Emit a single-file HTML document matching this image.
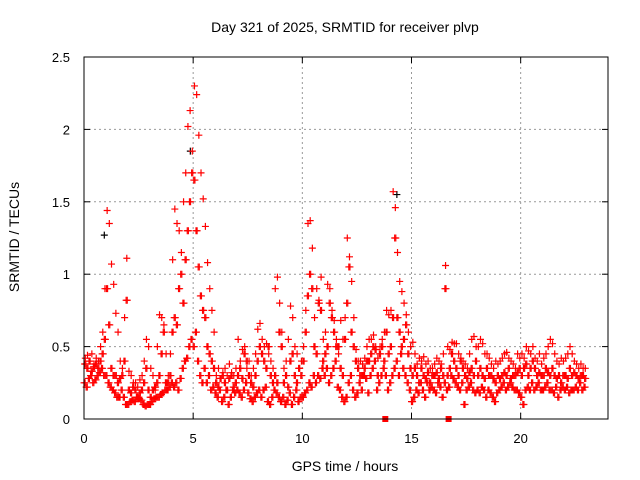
<!DOCTYPE html>
<html><head><meta charset="utf-8"><style>
body{margin:0;background:#fff}
svg{display:block;font-family:"Liberation Sans",sans-serif}
</style></head><body>
<svg id="chart" width="640" height="480" xmlns="http://www.w3.org/2000/svg">
<text x="345" y="32" font-size="14" text-anchor="middle">Day 321 of 2025, SRMTID for receiver plvp</text>
<text x="345" y="471" font-size="14" text-anchor="middle">GPS time / hours</text>
<text transform="translate(19,237) rotate(-90)" font-size="14" text-anchor="middle">SRMTID / TECUs</text>
<g id="grid"></g><g id="marks"></g><g id="axes"></g>
</svg>
<script>
const xTicks=[0,5,10,15,20];
const yTicks=[0,0.5,1,1.5,2,2.5];
const yTickLabels=["0","0.5","1","1.5","2","2.5"];
const lowVals=[.25,.22,.28,.3,.25,.27,.3,.32,.35,.3, .3,.25,.22,.2,.18,.15,.15,.2,.15,.1, .1,.12,.13,.12,.15,.14,.13,.1,.09,.1, .1,.12,.14,.15,.15,.17,.18,.2,.2,.22, .25,.22,.25,.2,.28,.35,.4,.42,.5,.55, .5,.6,.4,.3,.25,.35,.25,.3,.2,.22, .18,.15,.2,.12,.15,.2,.1,.15,.2,.18, .2,.18,.15,.2,.25,.18,.14,.12,.15,.18, .2,.15,.2,.22,.12,.1,.15,.2,.18,.15, .12,.15,.1,.13,.18,.1,.15,.2,.12,.15, .15,.18,.2,.25,.22,.3,.25,.3,.28,.35, .3,.35,.25,.3,.35,.4,.22,.2,.15,.12, .15,.25,.3,.2,.15,.18,.25,.2,.3,.28, .18,.3,.35,.4,.2,.25,.3,.35,.3,.2, .25,.3,.35,.4,.3,.45,.35,.3,.25,.2, .12,.15,.2,.18,.25,.2,.15,.25,.2,.22, .2,.18,.25,.22,.15,.25,.2,.22,.3,.28, .25,.22,.2,.25,.1,.2,.22,.25,.2,.18, .2,.18,.22,.2,.15,.2,.18,.15,.12,.18, .2,.22,.25,.2,.22,.25,.22,.2,.2,.18, .15,.1,.2,.22,.2,.25,.2,.22,.25,.2, .2,.22,.25,.2,.2,.18,.22,.15,.2,.22, .2,.22,.18,.2,.2,.22,.2,.25,.2,.22];
const midVals=[.38,.35,.4,.33,.36,.38,.35,.4,.45,.55, .9,.65,.35,.3,.3,.25,.28,.3,.4,.82, .2,.18,.22,.2,.15,.18,.2,.25,.35,.2, .15,.2,.22,.25,.3,.45,.6,.25,.25,.3, .6,.7,.65,.9,1.0,.8,1.1,1.3,1.5,1.7, 1.65,1.3,1.05,.85,.75,.7,.5,.45,.4,.35, .25,.22,.28,.3,.25,.2,.28,.3,.22,.25, .3,.35,.28,.45,.4,.3,.25,.22,.3,.4, .5,.45,.4,.35,.5,.3,.25,.3,.25,.6, .5,.25,.3,.22,.4,.45,.3,.25,.35,.3, .4,.6,.85,1.0,.9,.5,.45,.8,.75,.4, .45,.5,.8,.7,.6,.5,.5,.35,.3,.55, .8,1.05,.6,.5,.4,.35,.3,.3,.35,.4, .4,.45,.5,.48,.3,.45,.5,.4,.6,.45, .5,.7,1.25,.7,.6,.5,.55,.65,.45,.35, .3,.35,.3,.25,.35,.3,.28,.32,.25,.3, .3,.32,.28,.35,.3,.9,.3,.35,.45,.4, .35,.3,.4,.35,.3,.28,.32,.35,.3,.4, .3,.35,.3,.28,.35,.3,.3,.28,.25,.3, .28,.3,.32,.3,.35,.28,.3,.3,.32,.35, .3,.35,.38,.3,.35,.4,.35,.3,.32,.3, .3,.35,.32,.3,.35,.3,.28,.3,.25,.3, .3,.28,.35,.3,.32,.3,.28,.3,.3,.28];
const highVals=[.42,.44,.4,.45,.38,.42,.4,.5,.6,.9, 1.44,1.35,1.07,.93,.73,.6,.4,.35,.7,1.11, .33,.3,.25,.25,.22,.27,.3,.4,.55,.5, .35,.3,.2,.5,.72,.7,.65,.45,.3,.45, 1.1,1.45,1.35,1.3,1.15,1.5,1.7,2.02,2.13,1.85, 2.3,2.24,1.96,1.7,1.52,1.33,1.08,.9,.75,.6, .3,.35,.28,.32,.35,.3,.38,.32,.3,.35, .55,.4,.48,.5,.35,.4,.3,.35,.45,.62, .66,.55,.5,.52,.45,.4,.35,.9,.98,.8, .6,.35,.4,.55,.78,.7,.5,.45,.35,.4, .5,.75,1.35,1.37,1.18,.7,.9,.82,.98,.55, .6,.93,.9,.75,.68,.55,.45,.68,.55,.7, 1.25,1.12,.95,.7,.48,.4,.4,.38,.42,.5, .55,.55,.58,.5,.42,.5,.55,.6,.75,.72, .75,1.57,1.46,1.15,.95,.88,.8,.72,.6,.5, .53,.45,.38,.42,.4,.43,.38,.4,.35,.35, .38,.42,.4,.38,.45,1.06,.5,.48,.53,.52, .52,.45,.42,.4,.38,.35,.45,.55,.57,.5, .5,.55,.52,.45,.45,.42,.38,.35,.4,.38, .4,.42,.45,.46,.42,.4,.38,.35,.45,.42, .45,.42,.5,.47,.45,.5,.42,.4,.45,.38, .42,.45,.5,.55,.52,.45,.4,.38,.42,.4, .42,.45,.5,.45,.4,.38,.35,.38,.35,.35];
const blackTimes=[0.93,4.87,14.33];
const blackVals=[1.27,1.85,1.55];
const squareTimes=[13.8,16.7];
const squareVals=[0,0];
const stepHours=0.1;

const L=84,R=608,T=57,B=419,XMAX=24,YMAX=2.5;
const NS="http://www.w3.org/2000/svg";
function xs(t){return L+(R-L)*t/XMAX;}
function ys(v){return B-(B-T)*v/YMAX;}
function mk(tag,attrs,parent){const e=document.createElementNS(NS,tag);for(const k in attrs)e.setAttribute(k,attrs[k]);parent.appendChild(e);return e;}
const grid=document.getElementById('grid'),marks=document.getElementById('marks'),axes=document.getElementById('axes');
xTicks.forEach((t,i)=>{
  if(t>0){const g=mk('line',{x1:xs(t),x2:xs(t),y1:T,y2:B,stroke:'#999','stroke-dasharray':'2,3','stroke-width':1},grid);
  
  }
  mk('line',{x1:xs(t),x2:xs(t),y1:B,y2:B-6,stroke:'#000'},axes);
  mk('line',{x1:xs(t),x2:xs(t),y1:T,y2:T+6,stroke:'#000'},axes);
  const tx=mk('text',{x:xs(t),y:B+24,'font-size':13,'text-anchor':'middle'},axes);tx.textContent=t;
  
  
});
yTicks.forEach((v,i)=>{
  if(v>0&&v<YMAX){const g=mk('line',{x1:L,x2:R,y1:ys(v),y2:ys(v),stroke:'#999','stroke-dasharray':'2,3','stroke-width':1},grid);
  
  }
  mk('line',{x1:L,x2:L+6,y1:ys(v),y2:ys(v),stroke:'#000'},axes);
  mk('line',{x1:R,x2:R-6,y1:ys(v),y2:ys(v),stroke:'#000'},axes);
  const tx=mk('text',{x:L-14,y:ys(v)+5,'font-size':13,'text-anchor':'end'},axes);tx.textContent=yTickLabels[i];
  
  
});
const frame=mk('rect',{x:L,y:T,width:R-L,height:B-T,fill:'none',stroke:'#000','stroke-width':1},axes);


function plus(t,v,color){
  const x=xs(t),y=ys(v);
  const p=mk('path',{d:`M${x-3.5},${y}h7M${x},${y-3.5}v7`,stroke:color,'stroke-width':1.2,fill:'none'},marks);
  
  
}
blackTimes.forEach((t,i)=>plus(t,blackVals[i],'#000'));
lowVals.forEach((v,i)=>{plus(i*stepHours,v,'#f00');plus(i*stepHours+0.05,v,'#f00');});
midVals.forEach((v,i)=>{plus(i*stepHours+0.03,v,'#f00');plus(i*stepHours+0.08,v,'#f00');});
highVals.forEach((v,i)=>plus(i*stepHours+0.06,v,'#f00'));
squareTimes.forEach((t,i)=>{
  const s=mk('rect',{x:xs(t)-3,y:ys(squareVals[i])-3,width:6,height:6,fill:'#f00'},marks);
  
  
});
</script>
</body></html>
